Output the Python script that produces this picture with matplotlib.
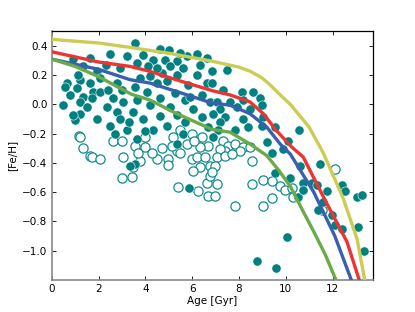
import matplotlib
matplotlib.use("Agg")
import matplotlib.pyplot as plt

# filled points (age [Gyr], [Fe/H])
filled_age = [0.92, 1.64, 2.49, 3.2, 1.35, 1.92, 2.06, 1.21, 0.64, 1.64, 2.78, 1.07, 1.78, 1.35, 0.78,
              2.06, 2.63, 1.21, 0.5, 3.06, 1.71, 2.35, 2.78, 1.21, 1.92, 1.0, 2.92, 2.49, 3.2, 2.7,
              3.56, 4.63, 3.91, 4.34, 4.84, 5.34, 5.77, 6.2, 6.62, 3.63, 4.13, 5.06, 5.62, 4.7, 5.34,
              4.2, 6.2, 3.77, 4.91, 4.49, 3.56, 5.84, 6.62, 4.06, 5.27, 6.41, 4.63, 3.63, 5.7, 6.77,
              4.2, 5.06, 6.05, 3.49, 4.63, 3.91, 5.34, 6.41, 5.7, 4.91, 4.34, 5.34, 3.63, 5.62, 6.69,
              6.84, 7.48, 6.84, 7.33, 8.12, 8.62, 8.9, 7.05, 7.62, 8.19, 8.97, 7.19, 7.91, 8.47, 6.91,
              7.41, 8.19, 9.04, 7.19, 8.4, 7.83, 7.12, 9.19, 6.91, 10.58, 10.11, 9.4, 9.9, 9.54, 8.97,
              9.54, 10.18, 10.61, 10.75, 11.11, 10.54, 10.75, 11.47, 11.32, 11.61, 11.39, 11.75, 11.97, 12.11, 12.39,
              12.53, 12.39, 13.03, 13.25, 13.1, 13.35, 10.04, 8.76, 9.58, 3.56, 3.35, 5.88, 6.34, 5.0, 5.5,
              0.56, 1.14, 2.3, 2.9, 2.4, 3.0, 0.9, 1.5, 4.5, 5.9, 3.3, 4.0]
filled_feh = [0.308, 0.319, 0.342, 0.33, 0.26, 0.226, 0.18, 0.169, 0.146, 0.146, 0.146, 0.111, 0.088, 0.053, 0.065,
              0.088, 0.042, 0.018, -0.005, 0.018, 0.042, -0.017, -0.051, -0.063, -0.097, -0.104, -0.097, -0.144, -0.178, -0.2,
              0.419, 0.377, 0.335, 0.307, 0.307, 0.296, 0.33, 0.342, 0.319, 0.285, 0.26, 0.26, 0.25, 0.215, 0.203,
              0.192, 0.203, 0.18, 0.157, 0.146, 0.122, 0.134, 0.146, 0.088, 0.076, 0.065, 0.042, 0.03, 0.03, 0.018,
              -0.005, -0.017, -0.028, -0.051, -0.081, -0.097, -0.074, -0.086, -0.121, -0.144, -0.178, -0.271, -0.236, -0.2, -0.155,
              0.226, 0.233, 0.146, 0.099, 0.088, 0.088, 0.042, 0.018, 0.018, 0.03, -0.005, -0.028, -0.017, -0.028, -0.063,
              -0.086, -0.097, -0.086, -0.121, -0.155, -0.178, -0.178, -0.26, -0.225, -0.174, -0.248, -0.329, -0.306, -0.155, -0.144,
              -0.468, -0.5, -0.42, -0.537, -0.537, -0.63, -0.583, -0.41, -0.549, -0.665, -0.722, -0.595, -0.757, -0.826, -0.549,
              -0.595, -0.85, -0.63, -0.618, -0.838, -1.0, -0.908, -1.07, -1.12, -0.41, -0.42, -0.57, 0.273, 0.37, 0.35,
              0.122, 0.2, 0.27, 0.25, 0.1, 0.1, -0.07, -0.02, 0.25, 0.05, -0.12, -0.18]

# open points
open_age = [1.17, 1.21, 1.35, 2.63, 2.99, 1.64, 1.71, 2.06, 3.06, 2.99, 3.42, 3.46, 3.77, 4.49, 4.98,
            4.98, 5.34, 5.41, 5.98, 6.2, 6.34, 6.05, 6.62, 6.69, 6.77, 6.77, 6.27, 3.99, 3.56, 3.99,
            5.2, 5.13, 5.48, 5.98, 6.41, 6.69, 6.34, 3.7, 5.48, 7.33, 7.55, 7.83, 8.19, 7.41, 8.05,
            8.47, 7.19, 7.05, 7.41, 6.98, 6.84, 7.05, 6.98, 8.55, 8.55, 9.04, 9.4, 9.76, 9.97, 9.4,
            9.04, 7.83, 10.26, 10.32, 12.11, 11.54, 4.7, 5.8, 6.55, 4.3, 7.7, 6.1]
open_feh = [-0.213, -0.225, -0.3, -0.248, -0.248, -0.35, -0.361, -0.373, -0.357, -0.5, -0.496, -0.43, -0.385, -0.37, -0.373,
            -0.415, -0.32, -0.563, -0.375, -0.357, -0.431, -0.456, -0.54, -0.628, -0.42, -0.489, -0.593, -0.225, -0.283, -0.294,
            -0.225, -0.283, -0.178, -0.2, -0.225, -0.283, -0.294, -0.329, -0.329, -0.248, -0.283, -0.271, -0.294, -0.317, -0.317,
            -0.294, -0.306, -0.361, -0.35, -0.42, -0.465, -0.547, -0.628, -0.385, -0.542, -0.519, -0.524, -0.558, -0.588, -0.639,
            -0.697, -0.692, -0.572, -0.63, -0.44, -0.72, -0.3, -0.27, -0.36, -0.33, -0.34, -0.25]

# model tracks
yellow_age = [0, 2, 3.35, 5, 6.84, 8.0, 8.5, 9.0, 9.33, 9.8, 10.2, 11.0, 11.6, 12.45, 13.05, 13.4]
yellow_feh = [0.445, 0.42, 0.39, 0.35, 0.296, 0.255, 0.226, 0.18, 0.134, 0.06, 0.0, -0.155, -0.33, -0.64, -0.92, -1.22]
red_age = [0, 2, 3.35, 4.2, 5.5, 6.84, 7.62, 8.47, 9.04, 9.6, 10.25, 10.75, 11.7, 12.62, 13.18]
red_feh = [0.36, 0.29, 0.26, 0.226, 0.16, 0.095, 0.065, 0.018, -0.063, -0.178, -0.29, -0.36, -0.66, -0.94, -1.22]
blue_age = [0, 2, 3.35, 4.2, 5.5, 6.84, 7.62, 8.47, 9.19, 9.76, 10.2, 11.2, 12.1, 12.85]
blue_feh = [0.31, 0.24, 0.169, 0.146, 0.08, 0.01, -0.005, -0.063, -0.155, -0.27, -0.34, -0.6, -0.9, -1.22]
green_age = [0, 1, 2, 3.4, 4.2, 5.3, 6.84, 7.62, 8.47, 9.19, 9.7, 10.2, 10.74, 11.2, 11.7, 12.2]
green_feh = [0.31, 0.26, 0.19, 0.07, 0.03, -0.06, -0.17, -0.19, -0.27, -0.35, -0.45, -0.56, -0.73, -0.87, -1.03, -1.22]

xticks = [0, 2, 4, 6, 8, 10, 12]
yticks = [-1.0, -0.8, -0.6, -0.4, -0.2, 0.0, 0.2, 0.4]

teal = "#008080"

fig = plt.figure(figsize=(4.15, 3.12), dpi=100)
ax = fig.add_axes([0.1246, 0.1026, 0.7742, 0.7971])

ax.scatter(open_age, open_feh, s=44, facecolors="white", edgecolors="#128c8c", linewidths=0.9, zorder=2)
ax.scatter(filled_age, filled_feh, s=44, color=teal, edgecolors="white", linewidths=0.4, zorder=3)

lw = 2.4
ax.plot(yellow_age, yellow_feh, color="#cccc55", lw=lw, zorder=4)
ax.plot(red_age, red_feh, color="#ee3333", lw=lw, zorder=4)
ax.plot(blue_age, blue_feh, color="#3a5fad", lw=lw, zorder=4)
ax.plot(green_age, green_feh, color="#6aaa4a", lw=lw, zorder=4)

ax.set_xlim(0, 13.73)
ax.set_ylim(-1.2, 0.5)
ax.set_xticks(xticks)
ax.set_yticks(yticks)
ax.set_xticklabels([str(t) for t in xticks])
ax.set_yticklabels([f"{t:.1f}".replace("-", "\u2212") for t in yticks])
ax.tick_params(direction="in", length=3, width=0.6, labelsize=7.5, top=True, right=True,
               labeltop=False, labelright=False, pad=3)

for side in ["left", "bottom"]:
    ax.spines[side].set_color("#888888")
    ax.spines[side].set_linewidth(1.2)
for side in ["top", "right"]:
    ax.spines[side].set_color("black")
    ax.spines[side].set_linewidth(0.9)

ax.set_xlabel("Age [Gyr]", fontsize=7.5, labelpad=1)
ax.set_ylabel("[Fe/H]", fontsize=7.5, labelpad=4)

fig.savefig("out.png", dpi=100)
